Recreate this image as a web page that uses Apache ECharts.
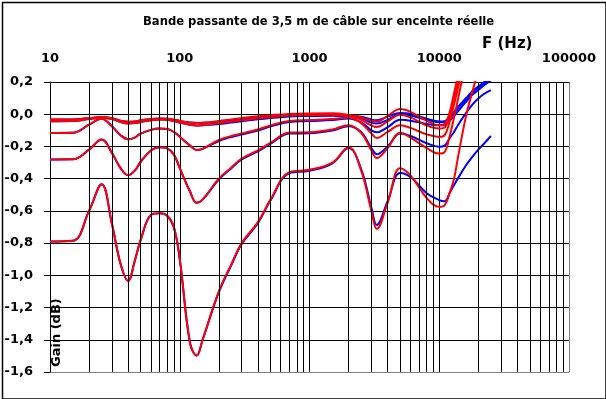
<!DOCTYPE html>
<html>
<head>
<meta charset="utf-8">
<script src="https://cdn.jsdelivr.net/npm/echarts@6/dist/echarts.min.js"></script>
<style>
html,body{margin:0;padding:0;background:#fff;}
#c{width:606px;height:399px;}
</style>
</head>
<body>
<div id="c"></div>
<script>
// Frequencies (Hz)
var freqs = [10,15,20,25,30,35,40,45,50,60,70,80,90,100,120,135,150,200,250,300,400,500,700,1000,1500,2000,2500,3000,3300,4000,5000,6000,8000,10000,11000,12000,13000,14000,16000,18000,20000,22000,25000];

// Gain (dB) - red curves
var redA = [-0.033,-0.033,-0.024,-0.018,-0.025,-0.040,-0.047,-0.045,-0.038,-0.029,-0.026,-0.028,-0.034,-0.042,-0.052,-0.055,-0.053,
            -0.042,-0.032,-0.024,-0.013,-0.006,0.002,0.005,0.006,-0.004,
            -0.020,-0.040,-0.046,-0.010,0.032,0.015,-0.040,-0.068,-0.060,0.010,0.130,0.250,0.500,0.700,0.900,1.050,1.250];
var redB = [-0.043,-0.042,-0.030,-0.022,-0.030,-0.048,-0.058,-0.055,-0.048,-0.037,-0.033,-0.035,-0.042,-0.052,-0.066,-0.070,-0.068,
            -0.055,-0.045,-0.038,-0.025,-0.018,-0.008,-0.005,-0.003,-0.010,
            -0.035,-0.070,-0.080,-0.045,-0.003,-0.020,-0.070,-0.089,-0.082,-0.010,0.100,0.210,0.450,0.650,0.850,1.000,1.200];
var redC = [-0.116,-0.115,-0.065,-0.028,-0.075,-0.130,-0.155,-0.145,-0.120,-0.097,-0.089,-0.092,-0.110,-0.140,-0.195,-0.222,-0.215,
            -0.160,-0.135,-0.120,-0.095,-0.070,-0.042,-0.036,-0.030,-0.020,
            -0.055,-0.120,-0.148,-0.110,-0.068,-0.085,-0.125,-0.141,-0.130,-0.050,0.060,0.170,0.400,0.600,0.800,0.950,1.150];
var redD = [-0.281,-0.280,-0.220,-0.157,-0.240,-0.335,-0.378,-0.350,-0.295,-0.225,-0.205,-0.212,-0.250,-0.335,-0.480,-0.550,-0.530,
            -0.400,-0.330,-0.275,-0.225,-0.178,-0.114,-0.112,-0.095,-0.068,
            -0.115,-0.225,-0.272,-0.210,-0.115,-0.145,-0.210,-0.244,-0.235,-0.140,-0.020,0.100,0.330,0.550,0.750,0.900,1.100];
var redE = [-0.790,-0.785,-0.600,-0.435,-0.680,-0.930,-1.035,-0.910,-0.780,-0.625,-0.615,-0.630,-0.700,-0.900,-1.420,-1.498,-1.400,
            -1.100,-0.930,-0.800,-0.670,-0.530,-0.360,-0.345,-0.300,-0.205,
            -0.350,-0.600,-0.712,-0.550,-0.335,-0.380,-0.520,-0.575,-0.565,-0.490,-0.400,-0.260,-0.020,0.140,0.270,0.400,0.550];

// Gain (dB) - blue curves
var blueA = [-0.033,-0.033,-0.024,-0.018,-0.025,-0.040,-0.047,-0.045,-0.038,-0.029,-0.026,-0.028,-0.034,-0.042,-0.052,-0.055,-0.053,
             -0.048,-0.038,-0.030,-0.019,-0.012,-0.004,-0.001,0.000,-0.010,
             -0.015,-0.033,-0.038,-0.015,0.008,0.003,-0.028,-0.045,-0.043,-0.015,0.015,0.048,0.098,0.142,0.172,0.197,0.232];
var blueB = [-0.043,-0.042,-0.030,-0.022,-0.030,-0.048,-0.058,-0.055,-0.048,-0.037,-0.033,-0.035,-0.042,-0.052,-0.066,-0.070,-0.068,
             -0.061,-0.051,-0.044,-0.031,-0.024,-0.014,-0.011,-0.009,-0.016,
             -0.025,-0.052,-0.058,-0.035,0.000,-0.008,-0.035,-0.050,-0.050,-0.022,0.008,0.040,0.090,0.135,0.165,0.190,0.225];
var blueC = [-0.116,-0.115,-0.065,-0.028,-0.075,-0.130,-0.155,-0.145,-0.120,-0.097,-0.089,-0.092,-0.110,-0.140,-0.195,-0.222,-0.215,
             -0.166,-0.141,-0.126,-0.101,-0.076,-0.048,-0.042,-0.036,-0.026,
             -0.050,-0.100,-0.112,-0.080,-0.035,-0.040,-0.060,-0.068,-0.065,-0.040,-0.010,0.020,0.075,0.120,0.150,0.178,0.210];
var blueD = [-0.281,-0.280,-0.220,-0.157,-0.240,-0.335,-0.378,-0.350,-0.295,-0.225,-0.205,-0.212,-0.250,-0.335,-0.480,-0.550,-0.530,
             -0.406,-0.336,-0.281,-0.231,-0.184,-0.120,-0.118,-0.101,-0.074,
             -0.110,-0.210,-0.248,-0.200,-0.120,-0.135,-0.180,-0.202,-0.195,-0.150,-0.110,-0.065,0.005,0.060,0.098,0.125,0.150];
var blueE = [-0.790,-0.785,-0.600,-0.435,-0.680,-0.930,-1.035,-0.910,-0.780,-0.625,-0.615,-0.630,-0.700,-0.900,-1.420,-1.498,-1.400,
             -1.106,-0.936,-0.806,-0.676,-0.536,-0.366,-0.351,-0.305,-0.210,
             -0.340,-0.580,-0.688,-0.540,-0.365,-0.390,-0.490,-0.533,-0.540,-0.490,-0.440,-0.395,-0.320,-0.265,-0.220,-0.185,-0.135];

// Minor vertical grid frequencies
var gridFreqs = [20,30,40,50,60,70,80,90,200,300,400,500,600,700,800,900,2000,3000,4000,5000,6000,7000,8000,9000,20000,30000,40000,50000,60000,70000,80000,90000];

var titleText = 'Bande passante de 3,5 m de câble sur enceinte réelle';
var xName = 'F (Hz)';
var yName = 'Gain (dB)';

var FONT = 'DejaVu Sans';

function pairs(vals) {
  return freqs.map(function (f, i) { return [f, vals[i]]; });
}
function lineSeries(name, vals, color, z) {
  return {
    name: name, type: 'line', data: pairs(vals), smooth: 0.4,
    showSymbol: false, symbol: 'none', z: z, clip: true,
    lineStyle: { color: color, width: 2 }, itemStyle: { color: color },
    emphasis: { disabled: true }
  };
}

var chart = echarts.init(document.getElementById('c'), null, { renderer: 'canvas' });
var series = [
  {
    type: 'line', data: [], z: 1, silent: true,
    markLine: {
      silent: true, symbol: ['none', 'none'], animation: false,
      label: { show: false },
      lineStyle: { color: '#000', width: 1, type: 'solid' },
      emphasis: { disabled: true },
      data: gridFreqs.map(function (f) { return { xAxis: f }; })
    }
  },
  lineSeries('bleu E', blueE, '#0000ff', 3),
  lineSeries('bleu D', blueD, '#0000ff', 3),
  lineSeries('bleu C', blueC, '#0000ff', 3),
  lineSeries('bleu B', blueB, '#0000ff', 3),
  lineSeries('bleu A', blueA, '#0000ff', 3),
  lineSeries('rouge E', redE, '#ff0000', 4),
  lineSeries('rouge D', redD, '#ff0000', 4),
  lineSeries('rouge C', redC, '#ff0000', 4),
  lineSeries('rouge B', redB, '#ff0000', 4),
  lineSeries('rouge A', redA, '#ff0000', 4)
];

chart.setOption({
  animation: false,
  backgroundColor: '#fff',
  title: {
    text: titleText, left: 138, top: 11,
    textStyle: { fontFamily: FONT, fontSize: 11.6, fontWeight: 'bold', color: '#000' }
  },
  grid: { left: 50, right: 37, top: 82, bottom: 27, containLabel: false },
  xAxis: {
    type: 'log', logBase: 10, min: 10, max: 100000, position: 'top',
    axisLine: { show: true, lineStyle: { color: '#000', width: 1 } },
    axisTick: { show: false },
    axisLabel: { show: true, margin: 17, color: '#000', fontFamily: FONT, fontSize: 13, fontWeight: 'bold',
      formatter: function (v) { return String(Math.round(v)); } },
    splitLine: { show: true, lineStyle: { color: ['#000', '#000', '#000', '#000', '#808080'], width: 1 } }
  },
  yAxis: {
    type: 'value', min: -1.6, max: 0.2, interval: 0.2,
    axisLine: { show: true, lineStyle: { color: '#000', width: 1 } },
    axisTick: { show: true, length: 6, lineStyle: { color: '#000' } },
    axisLabel: {
      margin: 17, color: '#000', fontFamily: FONT, fontSize: 13, fontWeight: 'bold',
      formatter: function (v) { return (Math.abs(v) < 1e-9 ? 0 : v).toFixed(1).replace('.', ','); }
    },
    splitLine: { show: true, lineStyle: { color: ['#808080', '#000', '#000', '#000', '#000', '#000', '#000', '#000', '#000', '#000'], width: 1 } }
  },
  graphic: [
    { type: 'rect', left: 0, top: 0, z: 100, silent: true,
      shape: { x: 1, y: 1, width: 603.5, height: 396.5 },
      style: { fill: 'none', stroke: '#000', lineWidth: 1.5 } },
    { type: 'text', left: 482, top: 37, z: 100, silent: true,
      style: { text: xName, fill: '#000', font: 'bold 15px "DejaVu Sans"' } },
    { type: 'text', x: 50, y: 367, rotation: Math.PI / 2, z: 100, silent: true,
      style: { text: yName, fill: '#000', font: 'bold 13px "DejaVu Sans"', textAlign: 'left', textVerticalAlign: 'top' } }
  ],
  series: series
});
</script>
</body>
</html>
